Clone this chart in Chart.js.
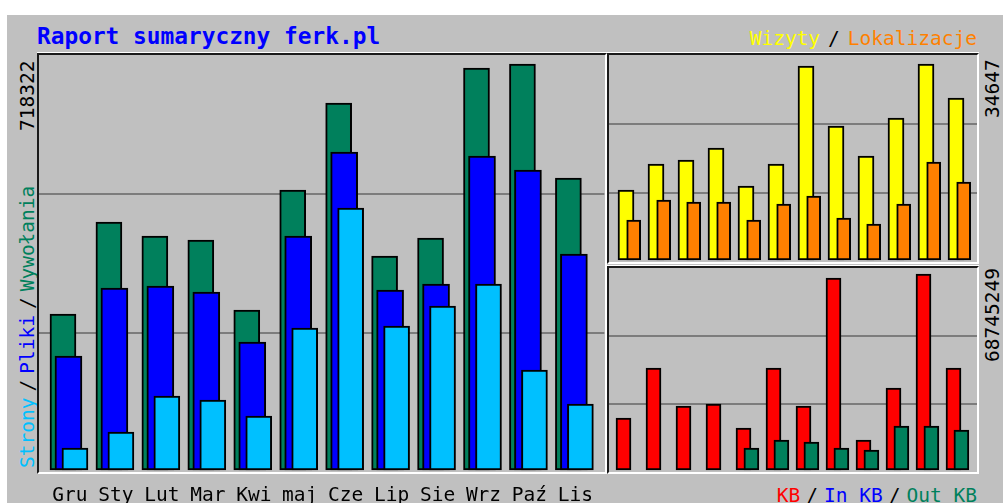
<!DOCTYPE html>
<html lang="pl">
<head>
<meta charset="UTF-8">
<title>Raport sumaryczny ferk.pl</title>
<script src="https://cdn.jsdelivr.net/npm/chart.js"></script>
<style>
    html, body { margin: 0; padding: 0; background: #fff; overflow: hidden; }
    body { position: relative; width: 1003px; height: 503px; font-family: "DejaVu Sans Mono", monospace; }
    .bg { position: absolute; left: 7px; top: 15px; right: 0; bottom: 0; background: #c0c0c0; }
    .frame {
        position: absolute; box-sizing: border-box;
        border-top: 2px solid #1a1a1a; border-left: 2px solid #1a1a1a;
        border-right: 2px solid #fff; border-bottom: 2px solid #fff;
        box-shadow: 0 -1px 0 #fff;
    }
    canvas { position: absolute; }
    .txt { position: absolute; font-size: 19.5px; line-height: 20px; white-space: nowrap; }
    .up { transform-origin: 0 0; transform: rotate(-90deg); }
    .sl { color: #000; margin: 0 6px; }
</style>
</head>
<body>
<div class="bg"></div>

<div class="txt" style="left:37px; top:23px; font-size:22.8px; line-height:26px; font-weight:bold; color:#0000ff;">Raport sumaryczny ferk.pl</div>
<div class="txt" style="right:26px; top:29px;"><span style="color:#ffff00">Wizyty</span><span class="sl" style="margin:0 8px">/</span><span style="color:#ff8000">Lokalizacje</span></div>
<div class="txt" style="right:26px; top:486px;"><span style="color:#ff0000">KB</span><span class="sl">/</span><span style="color:#0000ff">In KB</span><span class="sl">/</span><span style="color:#00805c">Out KB</span></div>

<div class="txt up" id="maxLeft" style="left:18px; top:131px; color:#000;"></div>
<div class="txt up" style="left:18px; top:468px;"><span style="color:#00c0ff">Strony</span><span class="sl">/</span><span style="color:#0000ff">Pliki</span><span class="sl">/</span><span style="color:#00805c">Wywołania</span></div>
<div class="txt up" id="maxVisits" style="left:983px; top:118px; color:#000;"></div>
<div class="txt up" id="maxKB" style="left:983px; top:362px; color:#000;"></div>

<div class="frame" style="left:37px; top:53px; width:570px; height:421px;"></div>
<div class="frame" style="left:607px; top:53px; width:372px; height:211px;"></div>
<div class="frame" style="left:607px; top:266px; width:372px; height:208px;"></div>

<canvas id="mainChart" width="566" height="448" style="left:39px; top:55px;"></canvas>
<canvas id="visitsChart" width="368" height="207" style="left:609px; top:55px;"></canvas>
<canvas id="kbChart" width="368" height="204" style="left:609px; top:268px;"></canvas>

<script>
    const months = ['Gru', 'Sty', 'Lut', 'Mar', 'Kwi', 'maj', 'Cze', 'Lip', 'Sie', 'Wrz', 'Paź', 'Lis'];

    // Wywołania / Pliki / Strony
    const hits  = [276000, 438800, 414000, 406900, 283100, 495400, 649300, 378600, 410500, 711200, 718322, 516600];
    const files = [201700, 322000, 325500, 314900, 226500, 414000, 562600, 318500, 329100, 555600, 530800, 382200];
    const pages = [38900, 67200, 130900, 123900, 95500, 251200, 463600, 254800, 290200, 329100, 176900, 116800];

    // Wizyty / Lokalizacje
    const visits = [12370, 16970, 17680, 19800, 13080, 16970, 34290, 23690, 18380, 25100, 34647, 28640];
    const sites  = [7070, 10610, 10250, 10250, 7070, 9900, 11310, 7420, 6360, 9900, 17320, 13790];

    // KB / In KB / Out KB
    const kbytes = [18238000, 35776000, 22447000, 23149000, 14731000, 35776000, 22447000, 67342000, 10522000, 28761000, 68745249, 35776000];
    const inKB   = [0, 0, 0, 0, 0, 0, 0, 0, 0, 0, 0, 0];
    const outKB  = [0, 0, 0, 0, 7716000, 10522000, 9821000, 7716000, 7015000, 15433000, 15433000, 14030000];

    const GRID = '#7c7c7c';
    const MONO = { family: 'DejaVu Sans Mono', size: 19.5 };

    document.getElementById('maxLeft').textContent = Math.max(...hits);
    document.getElementById('maxVisits').textContent = Math.max(...visits);
    document.getElementById('maxKB').textContent = Math.max(...kbytes);

    // value range so the tallest bar stops topGap px under the frame
    function yLimits(max, areaH, topGap, bottomGap) {
        const per = max / (areaH - topGap - bottomGap);
        return { min: -bottomGap * per, max: max + topGap * per };
    }

    // grid lines split the panel in thirds
    function thirds(scale) {
        const r = scale.max - scale.min;
        scale.ticks = [{ value: scale.min + r / 3 }, { value: scale.min + 2 * r / 3 }];
    }

    function bars(values, offset, width, color, order) {
        return {
            data: values.map((v, i) => ({ x: i + offset, y: v })),
            backgroundColor: color,
            borderColor: '#000',
            borderWidth: 2,
            borderSkipped: false,
            barThickness: width,
            grouped: false,
            order: order
        };
    }

    function makeChart(id, datasets, lim, xMin, xMax, showMonths) {
        return new Chart(document.getElementById(id), {
            type: 'bar',
            data: { datasets: datasets },
            options: {
                responsive: false,
                animation: false,
                devicePixelRatio: 1,
                layout: { padding: 0 },
                plugins: { legend: { display: false }, tooltip: { enabled: false } },
                scales: {
                    x: {
                        type: 'linear', min: xMin, max: xMax, offset: false,
                        display: showMonths,
                        grid: { display: false, drawTicks: false },
                        border: { display: false },
                        afterBuildTicks: s => { s.ticks = months.map((m, i) => ({ value: i + 0.4348 })); },
                        afterFit: s => { s.height = showMonths ? 31 : 0; },
                        ticks: {
                            autoSkip: false, maxRotation: 0, padding: 12,
                            color: '#000', font: MONO,
                            callback: (v, i) => months[i]
                        }
                    },
                    y: {
                        min: lim.min, max: lim.max,
                        afterBuildTicks: thirds,
                        afterFit: s => { s.width = 0; },
                        ticks: { display: false },
                        border: { display: false },
                        grid: { color: GRID, lineWidth: 2, drawTicks: false }
                    }
                }
            }
        });
    }

    // left panel: 46 px per month
    makeChart('mainChart', [
        bars(pages, 0.5435, 26, '#00c0ff', 1),
        bars(files, 0.4022, 27, '#0000ff', 2),
        bars(hits, 0.2826, 26, '#00805c', 3)
    ], yLimits(Math.max(...hits), 417, 9, 2), -0.2391, -0.2391 + 566 / 46, true);

    // right panels: 30 px per month
    makeChart('visitsChart', [
        bars(sites, 0.523, 14, '#ff8000', 1),
        bars(visits, 0.2667, 16, '#ffff00', 2)
    ], yLimits(Math.max(...visits), 207, 9, 2), -0.3, -0.3 + 368 / 30, false);

    makeChart('kbChart', [
        bars(outKB, 0.4467, 15, '#00805c', 1),
        bars(inKB, 0.3167, 15, '#0000ff', 2),
        bars(kbytes, 0.1833, 15, '#ff0000', 3)
    ], yLimits(Math.max(...kbytes), 204, 6, 2), -0.3, -0.3 + 368 / 30, false);
</script>
</body>
</html>
